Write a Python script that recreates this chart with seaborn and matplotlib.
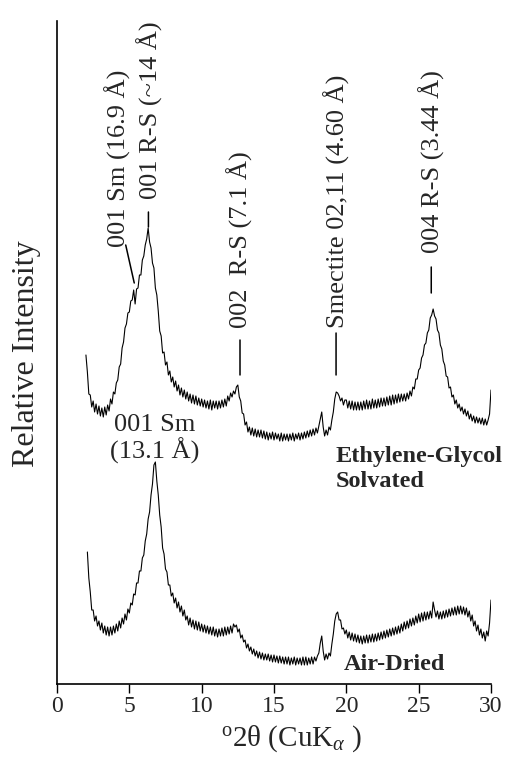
import numpy as np
import pandas as pd
import seaborn as sns
import matplotlib.pyplot as plt

# XRD traces, heights (arbitrary units), step 0.1 deg 2theta
eg_start = 2.0
eg_counts = [
    329, 312, 290, 289, 277, 283, 272, 280, 270, 278,
    268, 276, 267, 277, 269, 279, 273, 285, 280, 292,
    290, 301, 304, 317, 320, 336, 342, 356, 360, 371,
    372, 383, 384, 394, 380, 395, 396, 409, 409, 424,
    428, 439, 445, 456, 442, 436, 421, 416, 396, 389,
    373, 353, 348, 331, 332, 319, 322, 309, 313, 302,
    307, 297, 303, 293, 299, 289, 296, 287, 294, 285,
    292, 283, 290, 281, 289, 280, 288, 279, 286, 278,
    285, 277, 284, 276, 283, 275, 284, 274, 283, 276,
    283, 275, 283, 276, 284, 277, 285, 278, 288, 283,
    291, 287, 293, 290, 297, 299, 287, 283, 271, 270,
    259, 262, 252, 257, 249, 256, 248, 255, 247, 254,
    247, 254, 246, 253, 245, 252, 244, 251, 245, 252,
    244, 251, 245, 250, 243, 251, 243, 250, 244, 250,
    243, 250, 244, 251, 243, 250, 245, 251, 244, 251,
    245, 252, 246, 253, 247, 254, 248, 255, 249, 256,
    251, 258, 265, 272, 257, 248, 254, 249, 257, 254,
    264, 272, 285, 292, 291, 288, 283, 286, 279, 284,
    284, 276, 283, 275, 283, 274, 282, 274, 282, 274,
    282, 274, 283, 275, 284, 275, 283, 275, 285, 276,
    284, 276, 285, 277, 286, 278, 286, 278, 287, 279,
    288, 279, 289, 280, 289, 281, 290, 282, 290, 283,
    290, 283, 291, 285, 293, 288, 297, 295, 305, 305,
    314, 316, 326, 329, 339, 341, 351, 354, 366, 369,
    375, 368, 365, 354, 351, 339, 335, 323, 319, 308,
    307, 296, 297, 287, 289, 280, 284, 276, 280, 273,
    277, 270, 275, 268, 273, 265, 270, 263, 268, 261,
    267, 261, 266, 260, 266, 259, 265, 259, 264, 270,
    294,
]

ad_start = 2.1
ad_counts = [
    132, 106, 92, 74, 74, 63, 68, 58, 63,
    54, 61, 51, 58, 49, 57, 48, 57, 49, 58,
    51, 60, 53, 63, 56, 66, 60, 70, 64, 75,
    71, 81, 79, 90, 89, 101, 101, 113, 113, 126,
    129, 143, 150, 165, 172, 189, 200, 219, 222, 203,
    189, 169, 157, 136, 130, 115, 112, 99, 99, 88,
    91, 81, 86, 76, 82, 72, 78, 68, 74, 64,
    68, 59, 66, 57, 64, 55, 63, 54, 62, 53,
    60, 52, 59, 51, 58, 50, 57, 49, 57, 48,
    55, 47, 55, 48, 56, 48, 57, 49, 57, 50,
    58, 51, 60, 57, 59, 52, 55, 46, 49, 42,
    44, 36, 40, 33, 37, 30, 35, 28, 33, 26,
    32, 25, 31, 24, 30, 24, 30, 23, 29, 22,
    29, 22, 28, 21, 28, 21, 27, 20, 27, 20,
    27, 19, 26, 20, 27, 19, 26, 20, 26, 19,
    27, 19, 27, 19, 26, 20, 27, 20, 27, 23,
    28, 31, 41, 48, 33, 24, 30, 25, 31, 28,
    40, 50, 63, 70, 72, 64, 64, 55, 56, 50,
    54, 46, 52, 44, 51, 43, 50, 42, 49, 41,
    48, 40, 48, 41, 49, 41, 49, 42, 50, 42,
    50, 43, 51, 44, 52, 45, 53, 46, 54, 47,
    55, 48, 56, 49, 57, 50, 58, 51, 60, 53,
    62, 55, 63, 56, 65, 58, 66, 59, 68, 61,
    70, 62, 71, 63, 72, 64, 72, 65, 73, 66,
    82, 74, 67, 73, 65, 72, 65, 73, 66, 74,
    67, 75, 68, 76, 69, 77, 69, 78, 70, 78,
    70, 77, 69, 76, 67, 73, 63, 69, 58, 63,
    53, 59, 49, 55, 46, 52, 43, 53, 48, 61,
    84,
]

# peak labels on the glycolated trace
peak_labels = ['001 Sm (16.9 Å)', '001 R-S (~14 Å)', '002  R-S (7.1 Å)',
               'Smectite 02,11 (4.60 Å)', '004 R-S (3.44 Å)']

eg = pd.DataFrame({'two_theta': eg_start + 0.1 * np.arange(len(eg_counts)),
                   'counts': eg_counts})
ad = pd.DataFrame({'two_theta': ad_start + 0.1 * np.arange(len(ad_counts)),
                   'counts': ad_counts})

sns.set_style('ticks')
plt.rcParams['font.family'] = ['Liberation Serif', 'DejaVu Serif']
plt.rcParams['mathtext.fontset'] = 'custom'
plt.rcParams['mathtext.rm'] = 'Liberation Serif'
plt.rcParams['mathtext.it'] = 'Liberation Serif:italic'

fig = plt.figure(figsize=(5.06, 7.57), dpi=100)
ax = fig.add_axes([57 / 506, 73 / 757, 434 / 506, 663 / 757])

sns.lineplot(data=eg, x='two_theta', y='counts', color='black', lw=0.8, ax=ax)
sns.lineplot(data=ad, x='two_theta', y='counts', color='black', lw=0.8, ax=ax)

ax.set_xlim(0, 30)
ax.set_ylim(0, 663)
ax.set_xticks([0, 5, 10, 15, 20, 25, 30])
ax.set_yticks([])
ax.tick_params(axis='x', direction='out', length=6.5, width=1, labelsize=17, pad=2, color='black')
for s in ['top', 'right']:
    ax.spines[s].set_visible(False)
for s in ['left', 'bottom']:
    ax.spines[s].set_color('black')
    ax.spines[s].set_linewidth(1.2)

ax.set_xlabel(r'$^{\mathrm{o}}$2θ (CuK$_{\alpha}$ )', fontsize=21)
ax.xaxis.set_label_coords(0.54, -0.059)
ax.set_ylabel('Relative Intensity', fontsize=23)
ax.yaxis.set_label_coords(-0.036, 0.498)

# rotated peak labels and leader lines
lab_xy = [(4.17, 526), (6.44, 574), (12.65, 444), (19.37, 483), (25.92, 522)]
line_ends = [((4.75, 439), (5.34, 401)), ((6.32, 472), (6.32, 457)),
             ((12.65, 344), (12.65, 309)), ((19.29, 351), (19.29, 309)),
             ((25.87, 417), (25.87, 391))]
for txt, (tx, ty), (p0, p1) in zip(peak_labels, lab_xy, line_ends):
    ax.text(tx, ty, txt, rotation=90, ha='center', va='center', fontsize=19,
            clip_on=False)
    ax.annotate('', xy=p1, xytext=p0,
                arrowprops=dict(arrowstyle='-', lw=1.1, color='black',
                                shrinkA=0, shrinkB=0))

ax.text(6.73, 245, '001 Sm\n(13.1 Å)', ha='center', va='center', fontsize=19,
        linespacing=1.1)
ax.text(19.26, 215, 'Ethylene-Glycol\nSolvated', ha='left', va='center',
        fontsize=17.5, fontweight='bold', linespacing=1.2)
ax.text(19.8, 19, 'Air-Dried', ha='left', va='center', fontsize=17.5,
        fontweight='bold')

fig.savefig('out.png', dpi=100)
